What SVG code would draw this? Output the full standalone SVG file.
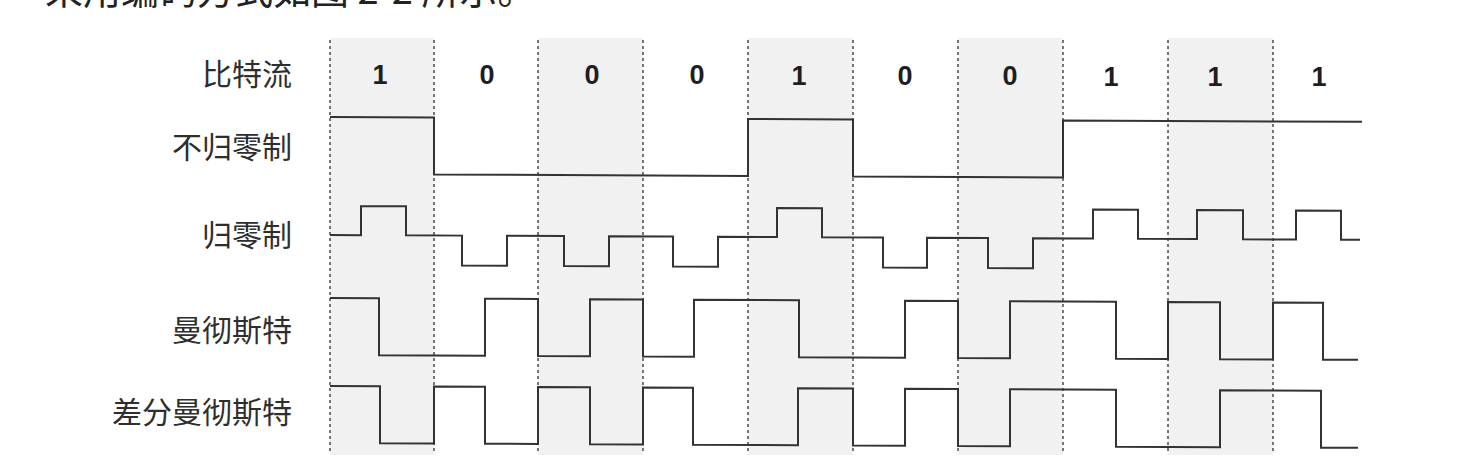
<svg xmlns="http://www.w3.org/2000/svg" width="1462" height="460" viewBox="0 0 1462 460">
<style>
.band{fill:#f1f1f1}
.grid{stroke:#555;stroke-width:1.6;stroke-dasharray:3 3;fill:none}
.wave{fill:none;stroke:#333;stroke-width:2;stroke-linejoin:miter}
.lbl{font-family:"Noto Sans CJK SC","Noto Sans",sans-serif;font-size:30px;fill:#2e2e2e;text-anchor:end}
.bit{font-family:"Liberation Sans",Arial,sans-serif;font-weight:bold;font-size:27px;fill:#1e1e1e;text-anchor:middle}
.body{font-family:"Noto Sans CJK SC","Noto Sans",sans-serif;font-size:38px;fill:#222}
</style>
<rect width="1462" height="460" fill="#fff"/>
<text class="body" x="45" y="4">采用编码方式如图 2-2 所示。</text>
<g id="bands">
<rect class="band" x="330" y="38" width="104" height="417"/>
<rect class="band" x="538" y="38" width="105" height="417"/>
<rect class="band" x="748" y="38" width="105" height="417"/>
<rect class="band" x="958" y="38" width="105" height="417"/>
<rect class="band" x="1168" y="38" width="105" height="417"/>
</g>
<g id="grid">
<path class="grid" d="M330,40V452M434,40V452M538,40V452M643,40V452M748,40V452M853,40V452M958,40V452M1063,40V452M1168,40V452M1273,40V452"/>
</g>
<g id="labels">
<text class="lbl" x="292" y="85">比特流</text>
<text class="lbl" x="292" y="158">不归零制</text>
<text class="lbl" x="292" y="246">归零制</text>
<text class="lbl" x="292" y="341">曼彻斯特</text>
<text class="lbl" x="292" y="423">差分曼彻斯特</text>
</g>
<g id="bits">
<text class="bit" x="380" y="84">1</text>
<text class="bit" x="487" y="84">0</text>
<text class="bit" x="592" y="84">0</text>
<text class="bit" x="697" y="84">0</text>
<text class="bit" x="799" y="85">1</text>
<text class="bit" x="905" y="85">0</text>
<text class="bit" x="1010" y="85">0</text>
<text class="bit" x="1111" y="86">1</text>
<text class="bit" x="1215" y="86">1</text>
<text class="bit" x="1319" y="86">1</text>
</g>
<g id="connectors" transform="matrix(1,0.0047,0,1,0,-1.551)">
<path id="nrz" class="wave" d="M330,117H434V174H748V117H853V174H1063V117H1362"/>
<path id="rz" class="wave" d="M330,235H361V206H406V235H462V265H507V235H564V265H609V235H673V265H718V235H777V206H822V235H883V265H927V235H988V265H1033V235H1093V206H1138V235H1197V206H1243V235H1296V206H1341V235H1360"/>
<path id="manchester" class="wave" d="M330,298H379V355H485V298H538V355H590V298H643V355H694V298H799V355H905V298H958V355H1010V298H1116V355H1168V298H1220V355H1273V298H1323V355H1358"/>
<path id="diffmanchester" class="wave" d="M330,386H380V443H434V386H485V443H538V386H590V443H643V386H693V443H798V386H853V443H905V386H958V443H1010V386H1116V443H1220V386H1321V443H1358"/>
</g>
</svg>
